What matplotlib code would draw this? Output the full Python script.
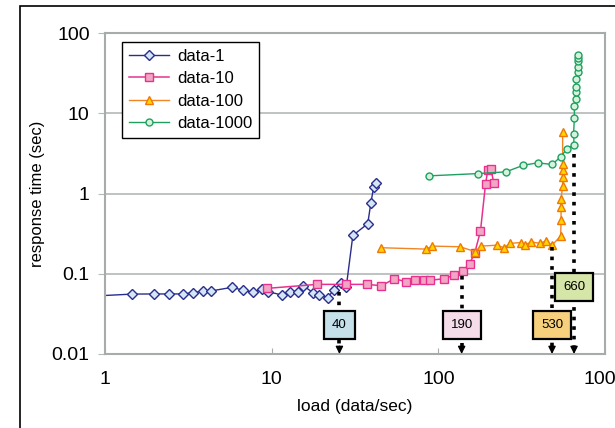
"""
Response time vs. load for different data sizes (log-log).
"""

import numpy as np
import matplotlib
matplotlib.use("Agg")
from matplotlib import pyplot as plt
from matplotlib.patches import Rectangle

plt.rcParams['font.family'] = ['Liberation Sans', 'DejaVu Sans']

# data-1
load_1 = [0.9, 1.46, 1.97, 2.42, 2.94, 3.38, 3.87, 4.32, 5.75, 6.73, 7.75, 8.69,
          9.52, 11.6, 12.9, 14.4, 15.5, 17.7, 19.2, 21.7, 23.5, 26.1, 28.0, 30.7,
          37.7, 39.4, 40.9, 42.5]
resp_1 = [0.053, 0.0558, 0.056, 0.056, 0.056, 0.058, 0.061, 0.061, 0.0676, 0.0626,
          0.0586, 0.0637, 0.060, 0.054, 0.060, 0.060, 0.071, 0.058, 0.054, 0.0503,
          0.0626, 0.0759, 0.0676, 0.30, 0.42, 0.77, 1.19, 1.36]

# data-10
load_10 = [9.37, 18.7, 28.0, 37.1, 45.6, 54.5, 64.1, 72.3, 81.8, 89.7, 108, 124,
           141, 154, 165, 179, 192, 198, 207, 215]
resp_10 = [0.0657, 0.0737, 0.0737, 0.0737, 0.071, 0.0867, 0.0795, 0.083, 0.083,
           0.083, 0.0867, 0.096, 0.108, 0.134, 0.179, 0.34, 1.32, 1.94, 2.0, 1.36]

# data-100
load_100 = [45.1, 84.1, 92.2, 135, 167, 180, 225, 247, 270, 312, 329, 361, 405,
            444, 481, 542, 545, 545, 545, 557, 557, 557, 557, 557]
resp_100 = [0.211, 0.203, 0.221, 0.217, 0.188, 0.221, 0.227, 0.211, 0.239, 0.245,
            0.227, 0.25, 0.239, 0.257, 0.227, 0.294, 0.466, 0.68, 0.85, 1.25,
            1.61, 1.95, 2.36, 5.86]

# data-1000
load_1000 = [88.3, 172, 254, 324, 394, 481, 542, 591, 652, 648, 655, 655, 666,
             666, 666, 673, 684, 684, 684, 684, 684]
resp_1000 = [1.66, 1.77, 1.86, 2.25, 2.41, 2.3, 2.86, 3.6, 4.07, 5.58, 8.75, 12.2,
             15.2, 18.4, 21.3, 27.0, 32.7, 37.8, 44.8, 49.3, 53.7]

# saturation markers
sat_labels = ['40', '190', '530', '660']
sat_x = [25.5, 138, 481, 652]
sat_start = [0.060, 0.093, 0.215, 3.1]
sat_box_y = [0.023, 0.023, 0.023, 0.0676]
sat_colors = ['#c6e0ea', '#f5dce9', '#f6d07c', '#d6e6a8']

fig = plt.figure(figsize=(6.15, 4.28), dpi=100)
ax = fig.add_axes([105/615, 1 - 354/428, 500/615, 321/428])

# outer frame of the original figure
fig.patches.append(Rectangle((20/615, -0.1), 1.2, 1 - 6/428 + 0.1, transform=fig.transFigure,
                             fill=False, ec='black', lw=1.2))

ax.plot(load_1, resp_1, '-D', color='#2b2d8e', lw=1.0, ms=5, mfc='#d3e6f6',
        mec='#2b2d8e', mew=1.0, label='data-1')
ax.plot(load_10, resp_10, '-s', color='#e8318c', lw=1.1, ms=5.5, mfc='#f2a6c6',
        mec='#e8318c', mew=1.0, label='data-10')
ax.plot(load_100, resp_100, '-^', color='#f08526', lw=1.0, ms=6, mfc='#ffd500',
        mec='#f07800', mew=1.0, label='data-100')
ax.plot(load_1000, resp_1000, '-o', color='#1fa060', lw=1.0, ms=5, mfc='#d6f2dc',
        mec='#1fa060', mew=1.0, label='data-1000')

for lab, x, y0, yb, c in zip(sat_labels, sat_x, sat_start, sat_box_y, sat_colors):
    ax.plot([x, x], [y0, 0.0118], ls=':', lw=2.6, color='black', zorder=4)
    ax.annotate('', xy=(x, 0.01), xytext=(x, 0.0125),
                arrowprops=dict(arrowstyle='-|>', color='black', lw=1.0,
                                mutation_scale=11, shrinkA=0, shrinkB=0), zorder=5)
    ax.text(x, yb, lab, ha='center', va='center', fontsize=9.5, zorder=6,
            bbox=dict(boxstyle='square,pad=0.6', fc=c, ec='black', lw=1.6))

ax.set_xscale('log')
ax.set_yscale('log')
ax.set_xlim(1, 1000)
ax.set_ylim(0.01, 100)
ax.set_xticks([1, 10, 100, 1000])
ax.set_xticklabels(['1', '10', '100', '1000'])
ax.set_yticks([0.01, 0.1, 1, 10, 100])
ax.set_yticklabels(['0.01', '0.1', '1', '10', '100'])
ax.minorticks_off()

ax.yaxis.grid(True, color='#b4b8b8', lw=1.2)
ax.set_axisbelow(True)
for s in ax.spines.values():
    s.set_color('#a6abab')
    s.set_linewidth(1.5)
ax.tick_params(axis='x', direction='in', length=4, color='#a6abab', pad=12, labelsize=14)
ax.tick_params(axis='y', direction='out', length=5, color='#b4b8b8', pad=6, labelsize=14)

ax.set_xlabel('load (data/sec)', fontsize=12.5, labelpad=8)
ax.set_ylabel('response time (sec)', fontsize=12, labelpad=5)

leg = ax.legend(loc='upper left', bbox_to_anchor=(0.034, 0.972), borderaxespad=0,
                fontsize=12, handlelength=2.4, labelspacing=0.45, handletextpad=0.5,
                fancybox=False, framealpha=1, edgecolor='black', borderpad=0.4)
leg.get_frame().set_linewidth(1.0)

fig.savefig('out.png', dpi=100)
